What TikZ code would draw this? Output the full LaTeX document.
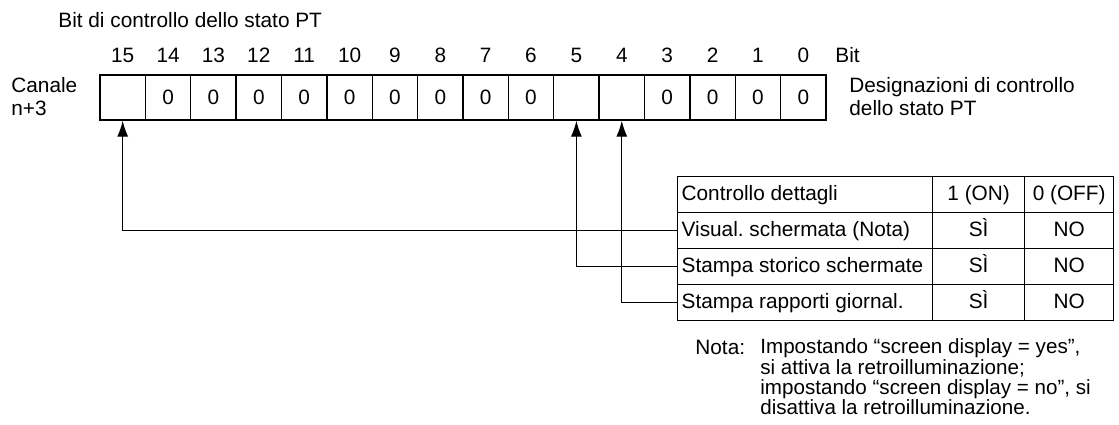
\documentclass[tikz,border=0pt]{standalone}
\usepackage{fontspec}
\setmainfont{Liberation Sans}
\usetikzlibrary{arrows.meta}
\tikzset{
    bitcell/.style = {
        draw,
        line width = 0.65pt,
        minimum width = 22.7pt,
        minimum height = 22.5pt,
        inner sep = 0pt,
    },
    plain/.style = {
        inner sep = 0pt,
    },
    namecell/.style = {
        draw,
        line width = 0.65pt,
        anchor = north west,
        minimum height = 18pt,
        text width = 123.5pt,
        inner xsep = 2pt,
        inner ysep = 0pt,
        align = flush left,
    },
    valcell/.style = {
        draw,
        line width = 0.65pt,
        anchor = north west,
        minimum width = #1,
        minimum height = 18pt,
        text height = 7.6pt,
        text depth = 2pt,
        inner sep = 0pt,
    },
    link/.style = {-{Latex[length=8pt,width=5.5pt]}, line width = 0.65pt}
}

\begin{document}
\begin{tikzpicture}[x=0.5pt, y=-0.5pt,
    every node/.style={font=\fontsize{10.4}{11.5}\selectfont}]
  \useasboundingbox (0,0) rectangle (1119,424);

  % Headings round the register
  \node[plain, anchor=west] (title) at (58,20) {Bit di controllo dello stato PT};
  \node[plain, anchor=west, align=left] (chan) at (11,96.5) {Canale\\n+3};
  \node[plain, anchor=west] (bitword) at (835,55) {Bit};
  \node[plain, anchor=west, align=left] (desig) at (849,96.5) {Designazioni di controllo\\dello stato PT};

  % Bit numbers
  \node[plain] (n15) at (122.7,55) {15};
  \node[plain] (n14) at (168.1,55) {14};
  \node[plain] (n13) at (213.4,55) {13};
  \node[plain] (n12) at (258.8,55) {12};
  \node[plain] (n11) at (304.2,55) {11};
  \node[plain] (n10) at (349.6,55) {10};
  \node[plain] (n9)  at (394.9,55) {9};
  \node[plain] (n8)  at (440.3,55) {8};
  \node[plain] (n7)  at (485.7,55) {7};
  \node[plain] (n6)  at (531.0,55) {6};
  \node[plain] (n5)  at (576.4,55) {5};
  \node[plain] (n4)  at (621.8,55) {4};
  \node[plain] (n3)  at (667.2,55) {3};
  \node[plain] (n2)  at (712.6,55) {2};
  \node[plain] (n1)  at (757.9,55) {1};
  \node[plain] (n0)  at (803.3,55) {0};

  % Register cells
  \node[bitcell] (b15) at (122.7,97.5) {};
  \node[bitcell] (b14) at (168.1,97.5) {0};
  \node[bitcell] (b13) at (213.4,97.5) {0};
  \node[bitcell] (b12) at (258.8,97.5) {0};
  \node[bitcell] (b11) at (304.2,97.5) {0};
  \node[bitcell] (b10) at (349.6,97.5) {0};
  \node[bitcell] (b9)  at (394.9,97.5) {0};
  \node[bitcell] (b8)  at (440.3,97.5) {0};
  \node[bitcell] (b7)  at (485.7,97.5) {0};
  \node[bitcell] (b6)  at (531.0,97.5) {0};
  \node[bitcell] (b5)  at (576.4,97.5) {};
  \node[bitcell] (b4)  at (621.8,97.5) {};
  \node[bitcell] (b3)  at (667.2,97.5) {0};
  \node[bitcell] (b2)  at (712.6,97.5) {0};
  \node[bitcell] (b1)  at (757.9,97.5) {0};
  \node[bitcell] (b0)  at (803.3,97.5) {0};

  % Table of settings
  \node[namecell] (ctrl) at (677,176) {Controllo dettagli};
  \node[valcell=46pt] (ctrlon) at (932,176) {1 (ON)};
  \node[valcell=44.5pt] (ctrloff) at (1024,176) {0 (OFF)};
  \node[namecell] (disp) at (677,212) {Visual.\ schermata (Nota)};
  \node[valcell=46pt] (dispon) at (932,212) {SÌ};
  \node[valcell=44.5pt] (dispoff) at (1024,212) {NO};
  \node[namecell] (hist) at (677,248) {Stampa storico schermate};
  \node[valcell=46pt] (histon) at (932,248) {SÌ};
  \node[valcell=44.5pt] (histoff) at (1024,248) {NO};
  \node[namecell] (rep) at (677,284) {Stampa rapporti giornal.};
  \node[valcell=46pt] (repon) at (932,284) {SÌ};
  \node[valcell=44.5pt] (repoff) at (1024,284) {NO};

  % Connectors from table rows to bits
  \draw[link] (disp.west) -| (b15.south);
  \draw[link] (hist.west) -| (b5.south);
  \draw[link] (rep.west) -| (b4.south);

  % Note
  \node[plain, anchor=west] (nota) at (695,347) {Nota:};
  \node[plain, anchor=west, align=left, font=\fontsize{10.3}{10.15}\selectfont] (notetext) at (760,377)
    {Impostando “screen display = yes”,\\si attiva la retroilluminazione;\\impostando “screen display = no”, si\\disattiva la retroilluminazione.};

\end{tikzpicture}
\end{document}
